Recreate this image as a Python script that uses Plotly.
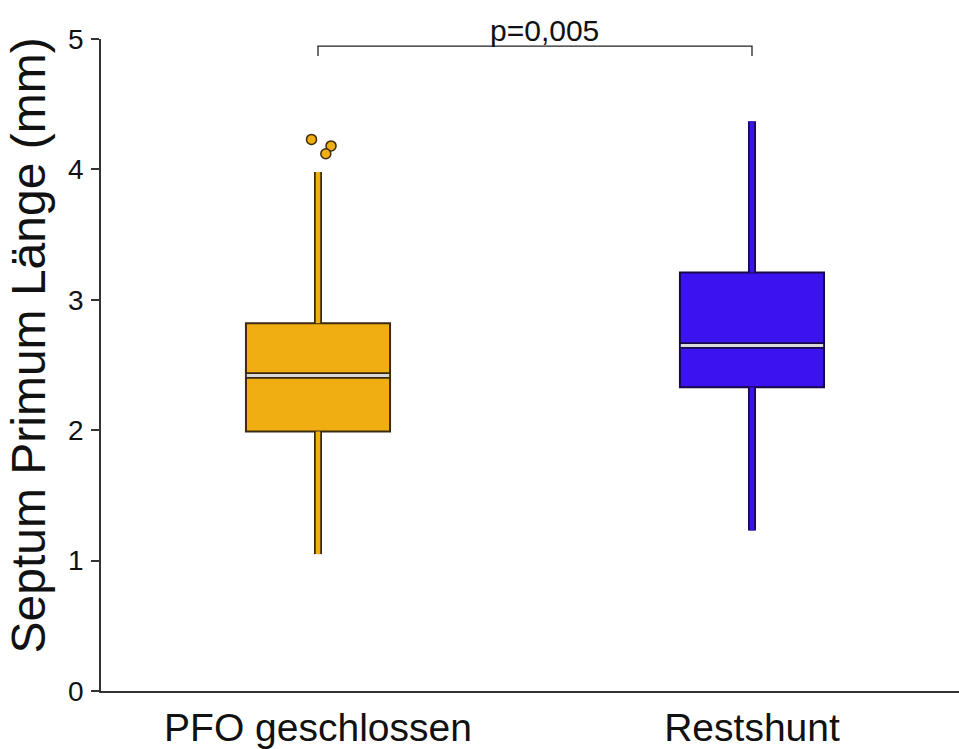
import plotly.graph_objects as go

# Group summary statistics (mm)
groups = ["PFO geschlossen", "Restshunt"]
q1 = [1.99, 2.33]
median = [2.42, 2.65]
q3 = [2.82, 3.21]
lower_whisker = [1.05, 1.23]
upper_whisker = [3.98, 4.37]
outlier_x = [0, 0, 0]
outlier_y = [4.23, 4.18, 4.12]

fill_colors = ["#F1AE12", "#3C12EE"]
edge_colors = ["#3B2A0E", "#170A4A"]
gap_color = "#D9D9D9"
box_width = 0.332

y_title = "Septum Primum Länge (mm)"
p_text = "p=0,005"
bracket_y = 4.945
bracket_drop = 0.075

FONT = "Liberation Sans, Arial, Helvetica"

fig = go.Figure()

for i, g in enumerate(groups):
    # whisker: dark outline with coloured core, from the fences to the box
    for y0, y1 in [(lower_whisker[i], q1[i]), (q3[i], upper_whisker[i])]:
        fig.add_trace(go.Scatter(x=[i, i], y=[y0, y1], mode="lines",
                                 line=dict(color=edge_colors[i], width=8),
                                 hoverinfo="skip", showlegend=False))
        fig.add_trace(go.Scatter(x=[i, i], y=[y0, y1], mode="lines",
                                 line=dict(color=fill_colors[i], width=4.5),
                                 hoverinfo="skip", showlegend=False))
    # box body
    fig.add_trace(go.Box(x=[i], q1=[q1[i]], median=[median[i]], q3=[q3[i]],
                         lowerfence=[q1[i]], upperfence=[q3[i]],
                         width=box_width, whiskerwidth=0,
                         fillcolor=fill_colors[i],
                         line=dict(color=edge_colors[i], width=2),
                         boxpoints=False, showlegend=False, name=g))
    # median split: dark band with a light gap inside
    half = box_width / 2
    fig.add_trace(go.Scatter(x=[i - half, i + half], y=[median[i], median[i]],
                             mode="lines", line=dict(color=edge_colors[i], width=6.5),
                             hoverinfo="skip", showlegend=False))
    fig.add_trace(go.Scatter(x=[i - half + 0.002, i + half - 0.002],
                             y=[median[i], median[i]],
                             mode="lines", line=dict(color=gap_color, width=3),
                             hoverinfo="skip", showlegend=False))

# outliers
fig.add_trace(go.Scatter(x=[xv + dx for xv, dx in zip(outlier_x, [-0.015, 0.03, 0.018])],
                         y=outlier_y, mode="markers",
                         marker=dict(size=10, color=fill_colors[0],
                                     line=dict(color=edge_colors[0], width=1.5)),
                         hoverinfo="skip", showlegend=False))

# significance bracket
fig.add_trace(go.Scatter(x=[0, 0, 1, 1],
                         y=[bracket_y - bracket_drop, bracket_y, bracket_y, bracket_y - bracket_drop],
                         mode="lines", line=dict(color="#222222", width=1.3),
                         hoverinfo="skip", showlegend=False, cliponaxis=False))
fig.add_annotation(x=0.523, y=bracket_y, text=p_text, showarrow=False,
                   yanchor="bottom", yshift=-3,
                   font=dict(family=FONT, size=30, color="#111111"))

# y-axis title, placed by hand
fig.add_annotation(xref="paper", yref="paper", x=-0.085, y=0.53,
                   xanchor="center", yanchor="middle", textangle=-90,
                   text=y_title, showarrow=False,
                   font=dict(family=FONT, size=48, color="#111111"))

fig.update_layout(
    width=959, height=749,
    margin=dict(l=101, r=0, t=39, b=58),
    paper_bgcolor="white", plot_bgcolor="white",
    font=dict(family=FONT, color="#111111"),
    xaxis=dict(range=[-0.5, 1.477], tickvals=[0, 1], ticktext=groups,
               showgrid=False, zeroline=False, showline=True,
               linecolor="#333333", linewidth=1.5, ticks="",
               ticklabelstandoff=1, automargin=False,
               tickfont=dict(size=39, color="#111111")),
    yaxis=dict(range=[0, 5], tickvals=[0, 1, 2, 3, 4, 5],
               showgrid=False, zeroline=False, showline=True,
               linecolor="#333333", linewidth=1.5, ticks="outside",
               ticklen=8, tickcolor="#333333", tickwidth=1.5,
               ticklabelstandoff=2, automargin=False,
               tickfont=dict(size=28, color="#111111")),
)

fig.write_html("out.html")
